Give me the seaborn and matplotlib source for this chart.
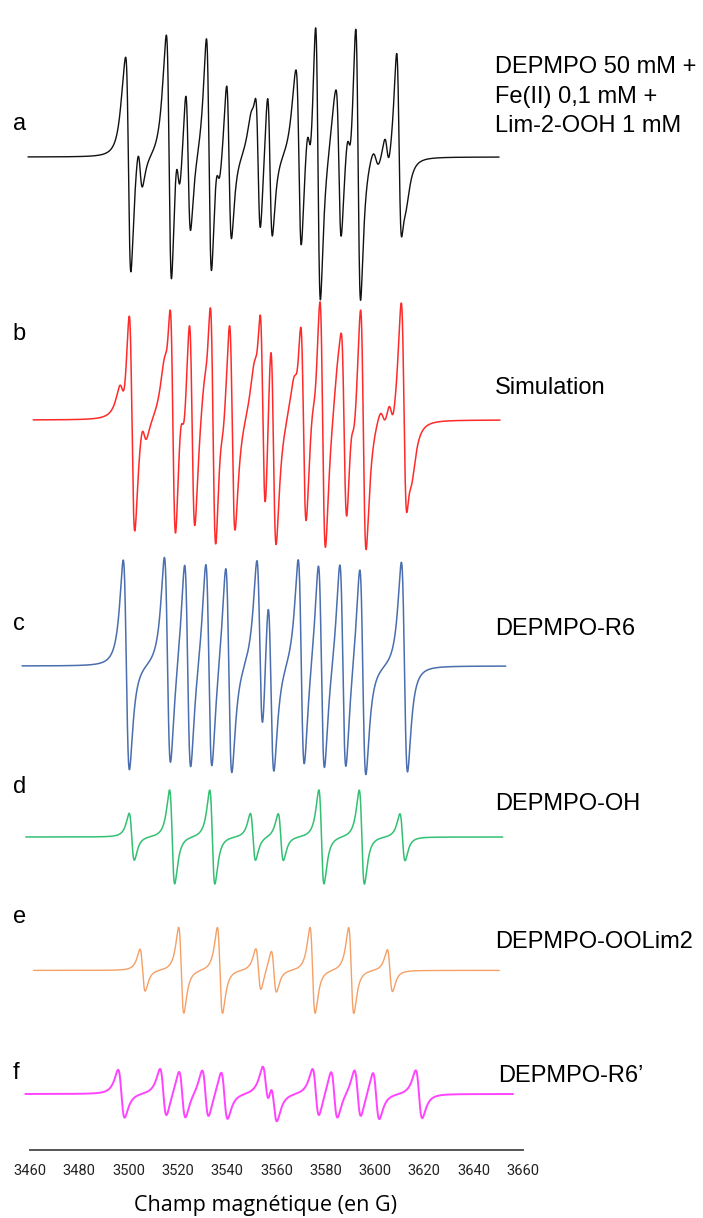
import numpy as np
import pandas as pd
import matplotlib
matplotlib.use("Agg")
import matplotlib.pyplot as plt
import seaborn as sns

# --- line positions (G) and peak-to-peak heights ---
# a : experimental spectrum
a_lines = [3500.0, 3504.7, 3516.5, 3520.1, 3524.2, 3532.7, 3536.3, 3540.8, 3552.6,
           3557.4, 3569.2, 3573.3, 3576.9, 3585.4, 3589.5, 3593.2, 3604.9, 3609.8]
a_heights = [211, 46, 241, 55, 146, 210, 34, 159, 146,
             149, 170, 50, 285, 150, 40, 280, 32, 193]
# broad shoulders under the sharp lines
a_broad = [3498.6, 3515.3, 3532.3, 3550.6, 3568.0, 3584.0, 3600.4, 3611.8]
a_broad_heights = [40, 40, 35, 40, 40, 35, 20, 40]

# b : simulation
b_lines = [3501.4, 3506.3, 3518.0, 3521.9, 3525.8, 3534.3, 3537.8, 3542.1, 3554.5,
           3558.8, 3571.0, 3575.2, 3578.8, 3587.5, 3591.0, 3595.3, 3606.6, 3611.8]
b_heights = [225, 25, 250, 49, 220, 260, 25, 215, 230,
             225, 215, 25, 260, 205, 36, 250, 27, 225]
b_broad = [3497.5, 3515.3, 3531.5, 3551.8, 3568.0, 3585.5, 3603.3, 3614.2]
b_broad_heights = [35, 45, 35, 45, 40, 35, 20, 45]

# c : DEPMPO-R6
c_lines = [3499.1, 3515.8, 3524.0, 3532.6, 3540.7, 3553.3, 3557.8, 3570.1,
           3578.3, 3587.0, 3595.1, 3612.0]
c_heights = [210, 210, 210, 210, 210, 190, 190, 210, 210, 210, 210, 210]

# d : DEPMPO-OH
d_lines = [3501.3, 3517.7, 3534.0, 3550.5, 3561.8, 3578.3, 3594.7, 3611.2]
d_heights = [47, 94, 94, 47, 47, 94, 94, 47]

# e : DEPMPO-OOLim2
e_lines = [3505.7, 3521.4, 3537.1, 3552.7, 3559.0, 3574.7, 3590.4, 3606.1]
e_heights = [42, 86, 86, 42, 42, 86, 86, 42]

# f : DEPMPO-R6'
f_lines = [3497.1, 3514.1, 3521.8, 3531.2, 3538.9, 3555.7, 3559.0, 3576.0,
           3583.5, 3593.0, 3600.5, 3617.9]
f_heights = [48, 48, 48, 48, 48, 44, 44, 48, 48, 48, 48, 48]

# peak-to-peak line widths (G)
widths = {"a": 2.0, "b": 2.3, "c": 2.5, "d": 2.1, "e": 2.1, "f": 2.65, "broad": 2.7}

# field range covered by each trace
ranges = {"a": (3459.2, 3650.4), "b": (3461.3, 3650.8), "c": (3456.8, 3653.1),
          "d": (3458.3, 3651.9), "e": (3461.4, 3650.5), "f": (3458.1, 3656.1)}

labels = ["a", "b", "c", "d", "e", "f"]
names = ["Simulation", "DEPMPO-R6", "DEPMPO-OH", "DEPMPO-OOLim2", "DEPMPO-R6\u2019"]
xticks = list(range(3460, 3661, 20))


def deriv_lorentz(field, centers, heights, dbpp):
    gamma = dbpp * np.sqrt(3) / 2
    x = (field[:, None] - np.asarray(centers)[None, :]) / gamma
    shape = -2 * x / (1 + x ** 2) ** 2 / 1.299
    return (shape * np.asarray(heights)[None, :]).sum(axis=1)


def spectrum(key, lines, heights, broad=None, broad_h=None):
    field = np.linspace(*ranges[key], 4000)
    sig = deriv_lorentz(field, lines, heights, widths[key])
    if broad is not None:
        sig = sig + deriv_lorentz(field, broad, broad_h, widths["broad"])
    return pd.DataFrame({"field": field, "signal": sig})


W, H = 703, 1218
fig = plt.figure(figsize=(W / 100, H / 100), dpi=100)
sns.set_style("white")

# axes: x 30 -> 522.7 px, bottom spine at 1150 px, y in pixels from top
ax = fig.add_axes([30 / W, (H - 1150) / H, (522.7 - 30) / W, 1150 / H])
ax.set_xlim(3460, 3660)
ax.set_ylim(1150, 0)

traces = [
    ("a", spectrum("a", a_lines, a_heights, a_broad, a_broad_heights), 157, "#111111", 1.0),
    ("b", spectrum("b", b_lines, b_heights, b_broad, b_broad_heights), 420, "#ff2a2a", 1.1),
    ("c", spectrum("c", c_lines, c_heights), 666, "#4a6eae", 1.1),
    ("d", spectrum("d", d_lines, d_heights), 837, "#33c072", 1.1),
    ("e", spectrum("e", e_lines, e_heights), 970.4, "#f4a066", 1.0),
    ("f", spectrum("f", f_lines, f_heights), 1094, "#ff44ff", 1.4),
]
for key, df, base, col, lw in traces:
    df["y"] = base - df["signal"]
    sns.lineplot(data=df, x="field", y="y", ax=ax, color=col, lw=lw,
                 estimator=None, sort=False, clip_on=False)

for s in ["top", "left", "right"]:
    ax.spines[s].set_visible(False)
ax.spines["bottom"].set_color("#555555")
ax.spines["bottom"].set_linewidth(1.4)
ax.set_yticks([])
ax.set_xticks(xticks)
ax.set_xticklabels([str(t) for t in xticks],
                   fontfamily=["Liberation Sans Narrow", "Roboto"],
                   fontstretch="condensed", fontsize=10.5, color="#222222")
ax.tick_params(axis="x", direction="out", length=4, width=1.2, color="#555555", pad=6)
ax.set_xlabel("")
ax.set_ylabel("")
ax.set_facecolor("none")


def ftext(x, y, s, **kw):
    fig.text(x / W, 1 - y / H, s, **kw)


lab_font = dict(fontfamily="Liberation Sans", fontsize=17, color="black", va="baseline")
letter_y = [130, 340, 630, 793.4, 923.2, 1079.2]
for lab, y in zip(labels, letter_y):
    ftext(12.5, y, lab, ha="left", **lab_font)

ftext(495, 73.3, "DEPMPO 50 mM +", ha="left", **lab_font)
ftext(495, 103.3, "Fe(II) 0,1 mM +", ha="left", **lab_font)
ftext(495, 132, "Lim-2-OOH 1 mM", ha="left", **lab_font)
name_pos = [(495, 393.5), (495, 635), (495, 810), (495, 948.3), (498.3, 1081.7)]
for name, (x, y) in zip(names, name_pos):
    ftext(x, y, name, ha="left", **lab_font)

ftext(265, 1211, "Champ magn\u00e9tique (en G)", ha="center", va="baseline",
      fontfamily="Open Sans", fontsize=15.5, color="black")

fig.savefig("out.png", dpi=100)
